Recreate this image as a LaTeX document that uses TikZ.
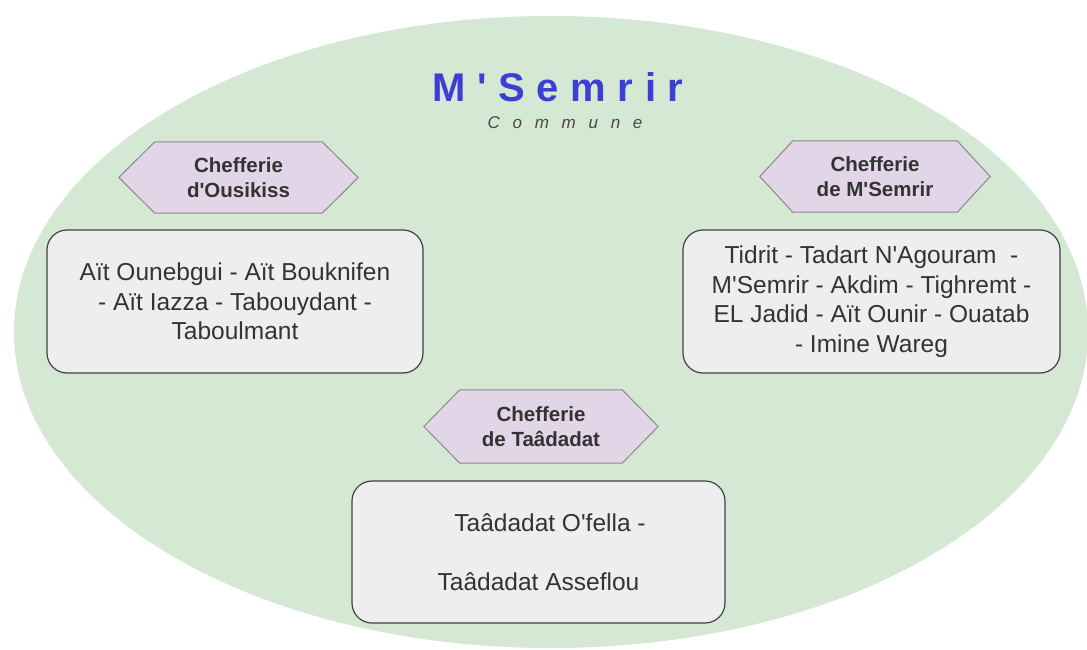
\documentclass[tikz,border=0pt]{standalone}
\usepackage{fontspec}
\setmainfont{Liberation Sans}[Ligatures=TeXOff]
\definecolor{zonefill}{HTML}{D5E8D4}
\definecolor{hexfill}{HTML}{E1D5E7}
\definecolor{hexline}{HTML}{8A8A8A}
\definecolor{boxfill}{HTML}{EEEEEE}
\definecolor{boxline}{HTML}{3F423F}
\definecolor{txt}{HTML}{333333}
\definecolor{titleblue}{HTML}{3B3FD2}
\definecolor{subtitle}{HTML}{4D4545}
\pgfdeclarelayer{bg}
\pgfsetlayers{bg,main}
% hexagon drawn around a (borderless) label node: #1 node name, #2 point depth
\newcommand\hexaround[2]{%
  \draw[hexshape] (#1.north west) -- (#1.north east) -- ([xshift=#2]#1.east)
    -- (#1.south east) -- (#1.south west) -- ([xshift=-#2]#1.west) -- cycle;}
\begin{document}
\begin{tikzpicture}[x=1pt,y=-1pt,
  hexlabel/.style={inner sep=0pt, minimum height=71pt, text=txt,
    font=\fontsize{20.5}{25.5}\selectfont\bfseries, align=center},
  hexshape/.style={fill=hexfill, draw=hexline, line width=1pt},
  village/.style={draw=boxline, fill=boxfill, line width=1.2pt,
    rounded corners=20pt, inner sep=0pt, text=txt,
    font=\fontsize{24.5}{29.5}\selectfont, align=center},
]
\useasboundingbox (0,0) rectangle (1087,650);

% page and commune area
\begin{pgfonlayer}{bg}
  \fill[white] (0,0) rectangle (1087,650);
  \fill[zonefill] (551,332) ellipse [x radius=537, y radius=316];
\end{pgfonlayer}

% title
\node[anchor=base, text=titleblue,
  font=\fontsize{40}{48}\selectfont\bfseries\addfontfeature{LetterSpace=29}]
  (title) at (558,102) {M'Semrir};
\node[anchor=base, text=subtitle,
  font=\fontsize{17}{20}\selectfont\itshape\addfontfeature{LetterSpace=75}]
  (sub) at (565,129) {Commune};

% chefferies
\node[hexlabel, minimum width=167pt] (hOus) at (238.5,177.5) {Chefferie\\d'Ousikiss};
\node[hexlabel, minimum width=164pt] (hMse) at (875,176.5) {Chefferie\\de M'Semrir};
\node[hexlabel, minimum width=162pt, minimum height=73pt] (hTaa) at (541,426.5) {Chefferie\\de Taâdadat};
\begin{pgfonlayer}{bg}
  \hexaround{hOus}{36pt}
  \hexaround{hMse}{33pt}
  \hexaround{hTaa}{36pt}
\end{pgfonlayer}

% villages of each chefferie
\node[village, minimum width=376pt, minimum height=143pt] (vOus) at (235,301.5)
  {Aït Ounebgui - Aït Bouknifen\\- Aït Iazza - Tabouydant -\\Taboulmant};
\node[village, minimum width=377pt, minimum height=143pt] (vMse) at (871.5,301.5)
  {Tidrit - Tadart N'Agouram\ \ -\\M'Semrir - Akdim - Tighremt -\\EL Jadid - Aït Ounir - Ouatab\\- Imine Wareg};
\node[village, minimum width=373pt, minimum height=142pt] (vTaa) at (538.5,552)
  {\hspace*{23pt}Taâdadat O'fella -\\[29.5pt]Taâdadat Asseflou};
\end{tikzpicture}
\end{document}
